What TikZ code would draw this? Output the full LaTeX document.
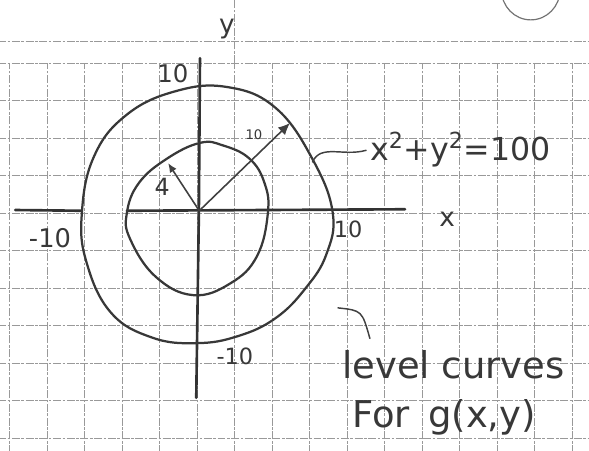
\documentclass[tikz,border=0pt]{standalone}
\usepackage{fontspec}
\setmainfont{DejaVu Sans}
\usetikzlibrary{arrows.meta,positioning,calc}

\begin{document}
\begin{tikzpicture}[
    gridline/.style={black!40, line width=0.6pt, dash pattern=on 6pt off 1.2pt on 2pt off 1.2pt},
    axisline/.style={black!80, line width=2pt, line cap=round},
    curvepen/.style={black!78, line width=1.7pt},
    pen/.style={black!75, line width=1.1pt, line cap=round},
    hand/.style={text=black!78, inner sep=0pt, anchor=base},
    radarrow/.style={-{Latex[length=9pt, width=8pt]}, black!75, line width=1.2pt}
]

% Paper
\useasboundingbox (-5.253,-6.32) rectangle (10.453,5.68);
\clip (-5.253,-6.32) rectangle (10.453,5.68);
\fill[white] (-5.253,-6.32) rectangle (10.453,5.68);

% Grid
\foreach \gy in {-6,...,4}
    \draw[gridline] (-5.3,\gy) -- (10.5,\gy);
\foreach \gx in {-5,...,10}
    \draw[gridline] (\gx,-6.4) -- (\gx,4);
\draw[gridline] (-5.3,4.57) -- (10.5,4.57);
\draw[gridline] (1,4) -- (1,5.7);

% Page number circle
\draw[black!55, line width=0.9pt] (8.9,5.95) ellipse (0.78 and 0.8);

% Axes
\coordinate (o) at (0.06,0.06);
\draw[axisline] (-4.85,0.08) -- (-3.07,0.06);
\draw[axisline] (-1.87,0.06) -- (5.55,0.1);
\draw[axisline] (0.08,4.13) -- (0.05,0) -- (-0.02,-4.93);

% Level curves
\draw[curvepen] plot[smooth cycle, tension=0.7] coordinates {
    (3.62,0) (3.1,1.4) (2.1,2.8) (0.8,3.36) (-0.6,3.24) (-1.9,2.6) (-2.75,1.5)
    (-3.07,0) (-2.95,-1.3) (-2.3,-2.65) (-1.2,-3.32) (0,-3.47) (1.1,-3.28)
    (2.1,-2.8) (2.9,-2.0) (3.45,-1.1)};
\draw[curvepen] plot[smooth cycle, tension=0.7] coordinates {
    (1.89,0) (1.8,0.8) (1.4,1.45) (0.7,1.8) (0.08,1.87) (-0.8,1.45) (-1.55,0.8)
    (-1.87,0) (-1.78,-0.7) (-1.1,-1.7) (-0.1,-2.19) (0.9,-1.87) (1.6,-1.15)};

% Radii
\coordinate (r10) at (2.48,2.4);
\coordinate (r4) at (-0.77,1.33);
\draw[radarrow] (o) -- (r10);
\draw[radarrow, -{Latex[length=7pt, width=6pt]}] (o) -- (r4);
\node[hand, font=\fontsize{10}{12}\selectfont] (r10lab) at (1.52,1.95) {10};
\node[hand, font=\fontsize{18}{20}\selectfont] (r4lab) at (-0.93,0.48) {4};

% Axis labels
\node[hand, font=\fontsize{20}{22}\selectfont] (ylab) at (0.8,4.8) {y};
\node[hand, font=\fontsize{20}{22}\selectfont] (xlab) at (6.67,-0.37) {x};
\node[hand, font=\fontsize{18.5}{20}\selectfont] (ytop) at (-0.64,3.47) {10};
\node[hand, font=\fontsize{17}{20}\selectfont] (ybot) at (1.01,-4.05) {-10};
\node[hand, font=\fontsize{19.5}{22}\selectfont] (xleft) at (-3.92,-0.91) {-10};
\node[hand, font=\fontsize{17}{20}\selectfont] (xright) at (4.03,-0.64) {10};

% Equation of the outer curve
\node[hand, anchor=base west, font=\fontsize{24}{26}\selectfont] (eqn) at (4.61,1.41)
    {x\textsuperscript{2}+y\textsuperscript{2}=100};
\coordinate (eqfoot) at (3.08,1.36);
\draw[pen, shorten >=3pt] (eqfoot) .. controls (3.3,1.85) and (3.9,1.5) .. (eqn.west);

% Note
\node[hand, anchor=base west, font=\fontsize{28}{30}\selectfont] (lvl) at (3.87,-4.4) {level curves};
\node[hand, anchor=base west, font=\fontsize{28}{30}\selectfont] (forg) at (4.13,-5.73)
    {For\hspace{0.5em}g(x,y)};
\coordinate (lvtip) at (3.76,-2.53);
\coordinate (lvend) at ($(lvl.north west)+(0.74,0.3)$);
\draw[pen] (lvtip) .. controls (4.4,-2.6) .. (lvend);

\end{tikzpicture}
\end{document}
